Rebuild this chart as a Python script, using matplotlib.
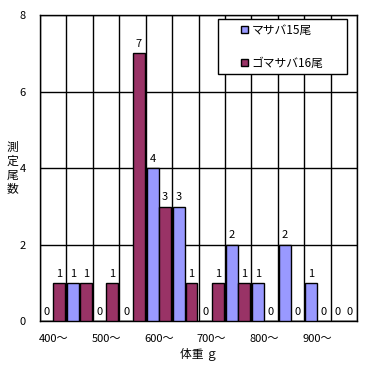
import numpy as np
import matplotlib
matplotlib.use('Agg')
from matplotlib import pyplot as plt
from matplotlib.patches import Rectangle

# 日本語フォント
plt.rcParams['font.family'] = ['Noto Sans CJK JP', 'DejaVu Sans']
plt.rcParams['axes.unicode_minus'] = False

# データ（体重階級ごとの測定尾数）
classes = ['400', '450', '500', '550', '600', '650', '700', '750', '800', '850', '900', '950']
masaba = [0, 1, 0, 0, 4, 3, 0, 2, 1, 2, 1, 0]
gomasaba = [1, 1, 1, 7, 3, 1, 1, 1, 0, 0, 0, 0]
series_names = ['マサバ15尾', 'ゴマサバ16尾']
tick_labels = ['400〜', '500〜', '600〜', '700〜', '800〜', '900〜']

col_blue = '#9999FF'
col_red = '#993366'

fig = plt.figure(figsize=(3.75, 3.66), dpi=100)
ax = fig.add_axes([0.1067, 0.1216, 0.8453, 0.8374])

x = np.arange(len(classes))
w = 0.45
b1 = ax.bar(x - 0.235, masaba, w, color=col_blue, edgecolor='black', linewidth=1.0,
            label=series_names[0], zorder=3)
b2 = ax.bar(x + 0.235, gomasaba, w, color=col_red, edgecolor='black', linewidth=1.0,
            label=series_names[1], zorder=3)

# 値ラベル
for bars in (b1, b2):
    for r in bars:
        ax.text(r.get_x() + r.get_width() / 2, r.get_height() + 0.12, '%d' % r.get_height(),
                ha='center', va='bottom', fontsize=8, zorder=4)

ax.set_xlim(-0.5, len(classes) - 0.5)
ax.set_ylim(0, 8)
ax.set_yticks([0, 2, 4, 6, 8])
ax.set_xticks(x[::2])
ax.set_xticklabels(tick_labels)
ax.set_xticks(np.arange(-0.5, len(classes), 1), minor=True)
ax.tick_params(axis='both', which='both', length=0, labelsize=8)
ax.tick_params(axis='x', pad=9)
ax.tick_params(axis='y', pad=10)
ax.grid(axis='y', which='major', color='black', linewidth=1.0, zorder=1)
ax.grid(axis='x', which='minor', color='black', linewidth=1.0, zorder=1)
ax.grid(axis='x', which='major', visible=False)
for s in ax.spines.values():
    s.set_linewidth(1.0)

ax.set_xlabel('体重 ｇ', fontsize=8.5, labelpad=2)

# 縦書きの軸ラベル
for i, ch in enumerate('測定尾数'):
    fig.text(0.034, 1 - (147 + 14 * i) / 366, ch, ha='center', va='center', fontsize=8.5)

# 凡例（枠は別に描く）
ax.add_patch(Rectangle((0.5615, 0.807), 0.4065, 0.18, transform=ax.transAxes,
                       facecolor='white', edgecolor='black', linewidth=1.0, zorder=5))
leg = ax.legend(loc='center', bbox_to_anchor=(0.5615 + 0.2032, 0.807 + 0.09), borderaxespad=0,
                fontsize=8.5, frameon=False,
                handlelength=0.6, handleheight=0.6, handletextpad=0.3,
                labelspacing=1.7, borderpad=0.0)
leg.set_zorder(6)

fig.savefig('out.png', dpi=100)
